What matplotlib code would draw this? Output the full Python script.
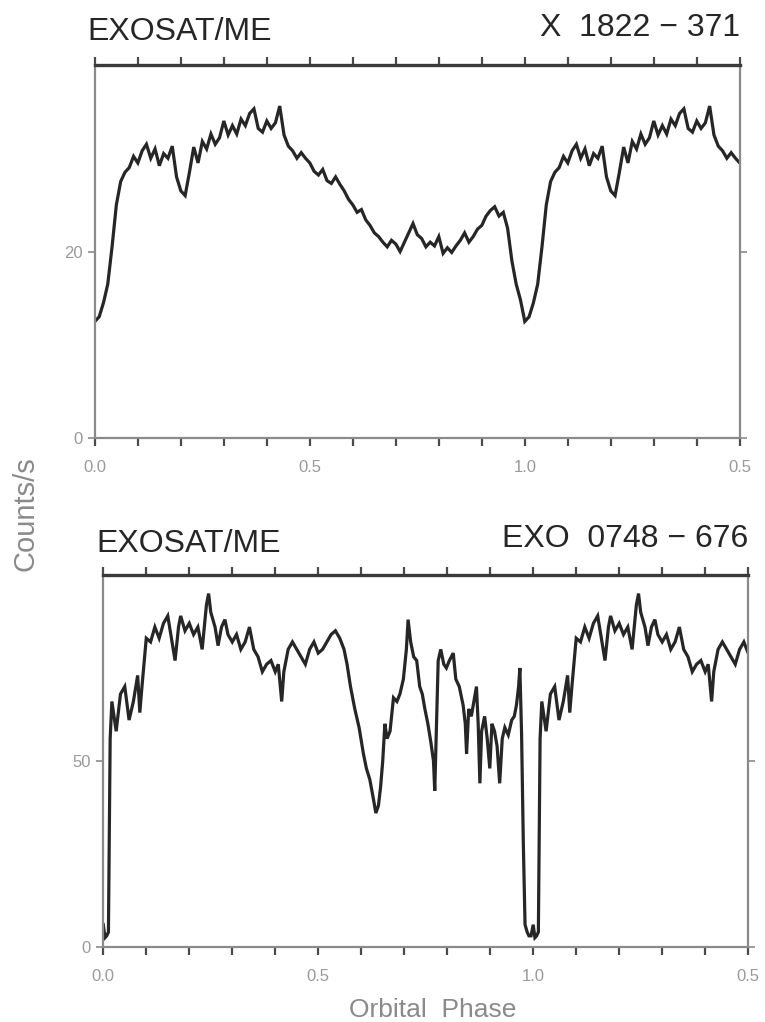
import numpy as np
import matplotlib
matplotlib.use('Agg')
import matplotlib.pyplot as plt
from matplotlib.ticker import MultipleLocator, FixedLocator, FixedFormatter

# X 1822-371 folded light curve (one orbital cycle), counts/s
phase_x1822 = [0.00, 0.01, 0.02, 0.03, 0.04, 0.05, 0.06, 0.07, 0.08, 0.09,
               0.10, 0.11, 0.12, 0.13, 0.14, 0.15, 0.16, 0.17, 0.18, 0.19,
               0.20, 0.21, 0.22, 0.23, 0.24, 0.25, 0.26, 0.27, 0.28, 0.29,
               0.30, 0.31, 0.32, 0.33, 0.34, 0.35, 0.36, 0.37, 0.38, 0.39,
               0.40, 0.41, 0.42, 0.43, 0.44, 0.45, 0.46, 0.47, 0.48, 0.49,
               0.50, 0.51, 0.52, 0.53, 0.54, 0.55, 0.56, 0.57, 0.58, 0.59,
               0.60, 0.61, 0.62, 0.63, 0.64, 0.65, 0.66, 0.67, 0.68, 0.69,
               0.70, 0.71, 0.72, 0.73, 0.74, 0.75, 0.76, 0.77, 0.78, 0.79,
               0.80, 0.81, 0.82, 0.83, 0.84, 0.85, 0.86, 0.87, 0.88, 0.89,
               0.90, 0.91, 0.92, 0.93, 0.94, 0.95, 0.96, 0.97, 0.98, 0.99]
counts_x1822 = [12.5, 13.0, 14.5, 16.5, 20.5, 25.0, 27.5, 28.5, 29.0, 30.2,
                29.5, 30.8, 31.5, 30.0, 31.0, 29.2, 30.5, 30.0, 31.3, 28.0,
                26.5, 26.0, 28.5, 31.2, 29.5, 31.8, 31.0, 32.6, 31.5, 32.2,
                34.0, 32.5, 33.5, 32.6, 34.2, 33.5, 34.8, 35.3, 33.2, 32.8,
                34.0, 33.2, 33.8, 35.6, 32.5, 31.3, 30.8, 30.0, 30.6, 30.0,
                29.5, 28.6, 28.2, 28.8, 27.6, 27.3, 28.0, 27.2, 26.5, 25.6,
                25.0, 24.2, 24.5, 23.4, 22.8, 22.0, 21.6, 21.0, 20.5, 21.2,
                20.8, 20.0, 21.0, 22.0, 23.0, 21.8, 21.4, 20.5, 21.0, 20.6,
                21.6, 19.8, 20.4, 19.9, 20.6, 21.2, 22.0, 21.0, 21.6, 22.4,
                22.8, 23.8, 24.4, 24.8, 23.8, 24.2, 22.5, 19.0, 16.5, 14.8]

# EXO 0748-676 folded light curve (one orbital cycle), counts/s
phase_exo0748 = [0.000, 0.004, 0.008, 0.012, 0.016, 0.020, 0.030, 0.040, 0.050, 0.060,
                 0.070, 0.080, 0.085, 0.090, 0.100, 0.110, 0.120, 0.130, 0.140, 0.150,
                 0.160, 0.167, 0.175, 0.180, 0.190, 0.200, 0.210, 0.220, 0.230, 0.240,
                 0.245, 0.250, 0.260, 0.267, 0.275, 0.283, 0.290, 0.300, 0.310, 0.320,
                 0.330, 0.340, 0.350, 0.360, 0.370, 0.380, 0.390, 0.400, 0.407, 0.415,
                 0.420, 0.430, 0.440, 0.450, 0.460, 0.470, 0.480, 0.490, 0.500, 0.510,
                 0.520, 0.530, 0.540, 0.550, 0.560, 0.567, 0.575, 0.585, 0.595, 0.605,
                 0.612, 0.620, 0.628, 0.634, 0.640, 0.645, 0.650, 0.655, 0.660, 0.667,
                 0.675, 0.683, 0.690, 0.698, 0.705, 0.709, 0.715, 0.722, 0.729, 0.736,
                 0.742, 0.748, 0.755, 0.762, 0.768, 0.771, 0.775, 0.779, 0.785, 0.792,
                 0.798, 0.805, 0.814, 0.820, 0.828, 0.837, 0.842, 0.845, 0.850, 0.856,
                 0.862, 0.868, 0.872, 0.876, 0.880, 0.887, 0.893, 0.899, 0.904, 0.910,
                 0.916, 0.922, 0.928, 0.934, 0.942, 0.950, 0.956, 0.961, 0.966, 0.969,
                 0.973, 0.977, 0.981, 0.986, 0.990, 0.995]
counts_exo0748 = [6, 2.5, 3, 4, 56, 66, 58, 68, 70, 61,
                  66, 73, 63, 70, 83, 82, 86, 83, 87, 89,
                  82, 77, 86, 89, 85, 87, 84, 86, 80, 92,
                  95, 90, 86, 81, 86, 88, 84, 82, 84, 80,
                  82, 86, 80, 78, 74, 76, 77, 74, 76, 66,
                  74, 80, 82, 80, 78, 76, 80, 82, 79, 80,
                  82, 84, 85, 83, 80, 76, 70, 64, 59, 52,
                  48, 45, 40, 36, 38, 43, 50, 60, 56, 58,
                  67, 66, 68, 72, 80, 88, 82, 78, 77, 70,
                  68, 64, 60, 55, 50, 42, 60, 77, 80, 76,
                  75, 77, 79, 72, 70, 65, 60, 52, 64, 62,
                  66, 70, 60, 44, 58, 62, 56, 48, 60, 58,
                  54, 44, 56, 59, 57, 61, 62, 65, 70, 75,
                  57, 28, 6, 4, 3, 3]

panels = [
    dict(phase=phase_x1822, counts=counts_x1822, ymax=40, ytick=20,
         source='X  1822 \u2212 371', rect=[0.124, 0.5714, 0.843, 0.365],
         title_y=(1.067, 1.077), title_x=-0.012),
    dict(phase=phase_exo0748, counts=counts_exo0748, ymax=100, ytick=50,
         source='EXO  0748 \u2212 676', rect=[0.135, 0.0734, 0.843, 0.364],
         title_y=(1.062, 1.075), title_x=-0.01),
]

label_font = ['Liberation Sans', 'DejaVu Sans']
plt.rcParams['font.family'] = label_font

fig = plt.figure(figsize=(7.65, 10.22), dpi=100)

for p in panels:
    ax = fig.add_axes(p['rect'])
    ph = np.array(p['phase'])
    ct = np.array(p['counts'])
    # fold: show 1.5 cycles, first half cycle repeated after phase 1
    first = ph <= 0.5
    x = np.concatenate([ph, [1.0], ph[first] + 1.0])
    y = np.concatenate([ct, [ct[0]], ct[first]])
    ax.plot(x, y, color='#262626', lw=2.3, solid_joinstyle='miter')

    ax.set_xlim(0, 1.5)
    ax.set_ylim(0, p['ymax'])

    for side in ['left', 'right', 'bottom']:
        ax.spines[side].set_color('#8a8a8a')
        ax.spines[side].set_linewidth(1.6)
    ax.spines['top'].set_color('#3a3a3a')
    ax.spines['top'].set_linewidth(2.4)

    ax.xaxis.set_major_locator(FixedLocator([0.0, 0.5, 1.0, 1.5]))
    ax.xaxis.set_major_formatter(FixedFormatter(['0.0', '0.5', '1.0', '0.5']))
    ax.xaxis.set_minor_locator(MultipleLocator(0.1))
    ax.yaxis.set_major_locator(FixedLocator([0, p['ytick']]))
    ax.yaxis.set_major_formatter(FixedFormatter(['0', str(p['ytick'])]))

    ax.tick_params(axis='x', which='both', direction='out', top=True, bottom=True,
                   length=6, width=1.6, color='#4a4a4a', labelsize=12,
                   labelcolor='#9a9a9a', pad=10)
    ax.tick_params(axis='y', which='both', direction='out', left=True, right=True,
                   length=5, width=1.2, color='#8a8a8a', labelsize=12,
                   labelcolor='#9a9a9a', pad=4)

    ax.text(p['title_x'], p['title_y'][0], 'EXOSAT/ME', transform=ax.transAxes,
            ha='left', va='baseline', fontsize=23, color='#262626')
    ax.text(1.0, p['title_y'][1], p['source'], transform=ax.transAxes,
            ha='right', va='baseline', fontsize=23, color='#262626')

fig.text(0.033, 0.497, 'Counts/s', rotation=90, ha='center', va='center',
         fontsize=21, color='#8a8a8a')
fig.text(0.565, 0.0, 'Orbital  Phase', ha='center', va='bottom',
         fontsize=19, color='#8a8a8a')

fig.savefig('out.png', dpi=100)
